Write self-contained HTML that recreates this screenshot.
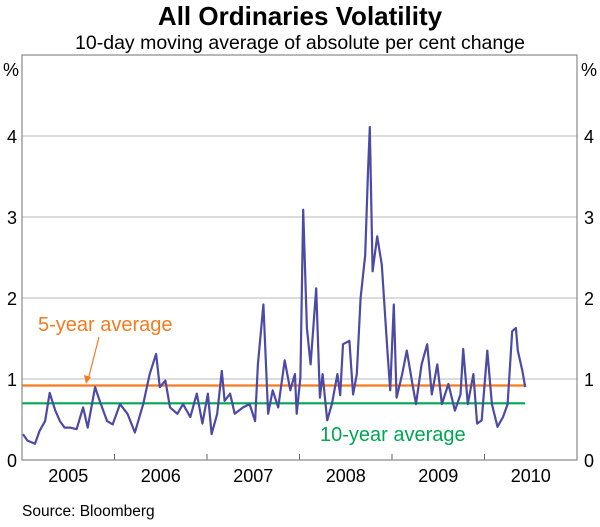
<!DOCTYPE html>
<html><head><meta charset="utf-8"><style>
body{margin:0;background:#fff;font-family:"Liberation Sans",sans-serif;}
svg text{font-family:"Liberation Sans",sans-serif;}
</style></head><body>
<svg width="600" height="522" viewBox="0 0 600 522">
<text x="300" y="25" text-anchor="middle" font-size="26" font-weight="bold" fill="#000">All Ordinaries Volatility</text>
<text x="300" y="49" text-anchor="middle" font-size="19.5" fill="#000">10-day moving average of absolute per cent change</text>
<g id="grid"></g>
<g id="ticks"></g>
<g id="avg"></g>
<path id="series" fill="none" stroke="#4d4aa6" stroke-width="2.2" stroke-linejoin="round"/>
<rect x="22" y="55" width="555" height="405" fill="none" stroke="#888" stroke-width="1.2"/>
<text x="3" y="76" font-size="18">%</text>
<text x="581" y="76" font-size="18">%</text>
<text x="38" y="331" font-size="20" fill="#f47b20">5-year average</text>
<line x1="99" y1="337" x2="88" y2="380" stroke="#f47b20" stroke-width="1.2"/>
<polygon points="86,384 84,375 91,377" fill="#f47b20"/>
<text x="320" y="441" font-size="20" fill="#00a651">10-year average</text>
<text x="22" y="516" font-size="15.5">Source: Bloomberg</text>
</svg>
<script>
const yearLabels=["2005","2006","2007","2008","2009","2010"];
const yTicks=[0,1,2,3,4];
const fiveYearAvg=0.92;
const tenYearAvg=0.70;
const dates=[2005.01,2005.06,2005.14,2005.19,2005.25,2005.30,2005.36,2005.41,2005.46,2005.52,2005.59,2005.66,2005.71,2005.79,2005.84,2005.92,2005.98,2006.06,2006.14,2006.22,2006.31,2006.38,2006.45,2006.49,2006.55,2006.60,2006.68,2006.74,2006.82,2006.89,2006.95,2007.01,2007.05,2007.11,2007.16,2007.19,2007.25,2007.30,2007.39,2007.46,2007.52,2007.55,2007.61,2007.66,2007.71,2007.77,2007.84,2007.90,2007.95,2007.97,2008.01,2008.04,2008.08,2008.12,2008.18,2008.22,2008.25,2008.30,2008.35,2008.41,2008.44,2008.47,2008.54,2008.58,2008.62,2008.66,2008.71,2008.74,2008.76,2008.79,2008.84,2008.89,2008.95,2008.98,2009.02,2009.05,2009.11,2009.16,2009.22,2009.26,2009.32,2009.38,2009.43,2009.49,2009.54,2009.61,2009.68,2009.74,2009.77,2009.82,2009.88,2009.92,2009.97,2010.03,2010.08,2010.14,2010.20,2010.25,2010.30,2010.34,2010.36,2010.41,2010.44];
const values=[0.32,0.24,0.2,0.36,0.48,0.83,0.61,0.48,0.4,0.4,0.38,0.65,0.40,0.9,0.73,0.48,0.44,0.69,0.57,0.34,0.69,1.06,1.31,0.9,0.98,0.65,0.57,0.69,0.53,0.82,0.45,0.82,0.32,0.57,1.1,0.73,0.82,0.57,0.65,0.69,0.48,1.18,1.92,0.57,0.86,0.65,1.23,0.86,1.06,0.57,1.02,3.09,1.63,1.18,2.12,0.77,1.06,0.49,0.69,1.06,0.8,1.43,1.47,0.81,1.06,2.0,2.53,3.56,4.11,2.33,2.76,2.41,1.35,0.86,1.92,0.77,1.06,1.35,0.94,0.69,1.18,1.43,0.81,1.18,0.69,0.94,0.61,0.81,1.37,0.69,1.06,0.45,0.49,1.35,0.69,0.41,0.53,0.69,1.59,1.63,1.35,1.1,0.9];
const X0=22,X1=577,Y0=460,Y1=55,T0=2005,T1=2011,V1=5;
const xs=t=>X0+(t-T0)/(T1-T0)*(X1-X0);
const ys=v=>Y0-v/V1*(Y0-Y1);
const NS="http://www.w3.org/2000/svg";
function mk(tag,attrs,parent,text){const e=document.createElementNS(NS,tag);for(const k in attrs)e.setAttribute(k,attrs[k]);if(text!==undefined)e.textContent=text;parent.appendChild(e);return e;}
const grid=document.getElementById('grid'),ticks=document.getElementById('ticks'),avg=document.getElementById('avg');
yTicks.forEach(v=>{
 if(v>0){const g=mk('line',{x1:X0,x2:X1,y1:ys(v),y2:ys(v),stroke:'#c8c8c8','stroke-width':1.2},grid);
 
 }
 const l=mk('text',{x:12,y:ys(v)+7,'font-size':18,'text-anchor':'middle'},ticks,String(v));
 
 
 const r=mk('text',{x:589,y:ys(v)+7,'font-size':18,'text-anchor':'middle'},ticks,String(v));
 
 
});
yearLabels.forEach((y,i)=>{
 const yr=+y;
 const t=mk('text',{x:xs(yr+0.5),y:482,'font-size':18,'text-anchor':'middle'},ticks,y);
 
 
 if(i>0){const m=mk('line',{x1:xs(yr),x2:xs(yr),y1:Y0,y2:Y0-6,stroke:'#666','stroke-width':1},ticks);
 
 }
});
const tEnd=dates[dates.length-1];
const o=mk('line',{x1:X0,x2:xs(tEnd),y1:ys(fiveYearAvg),y2:ys(fiveYearAvg),stroke:'#f47b20','stroke-width':2.2},avg);


const gr=mk('line',{x1:X0,x2:xs(tEnd),y1:ys(tenYearAvg),y2:ys(tenYearAvg),stroke:'#00a651','stroke-width':2.2},avg);


document.getElementById('series').setAttribute('d',dates.map((t,i)=>(i?'L':'M')+xs(t).toFixed(1)+','+ys(values[i]).toFixed(1)).join(''));
</script>
</body></html>
